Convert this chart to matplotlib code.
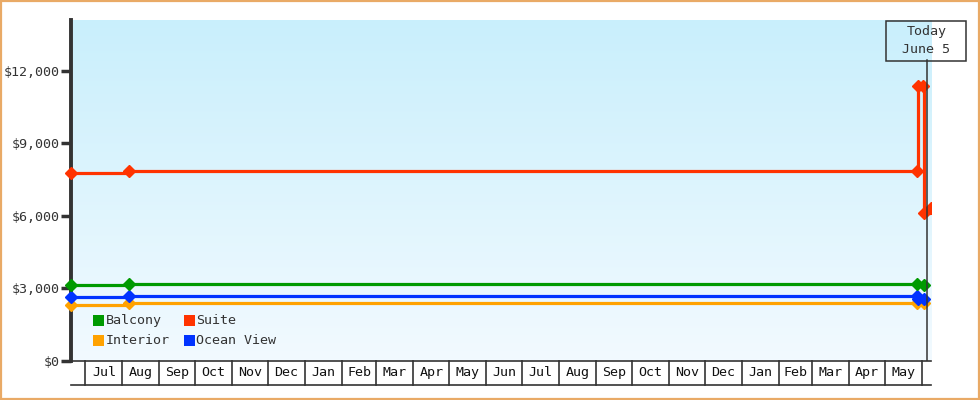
"""
Cabin price history chart (Balcony / Suite / Interior / Ocean View)
"""
# IMPORT TOOLS
import datetime as dt
import numpy as np
import matplotlib
matplotlib.use('Agg')
import matplotlib.pyplot as plt
import matplotlib.dates as mdates
from matplotlib.patches import Rectangle
from matplotlib.colors import LinearSegmentedColormap


# PRICE HISTORY DATA (price holds until the next change)
suite_dates = ['2023-06-19', '2023-08-07', '2025-05-28', '2025-05-28T18:00', '2025-06-02', '2025-06-03', '2025-06-09']
suite_prices = [7770, 7830, 7830, 11360, 11360, 6090, 6300]

balcony_dates = ['2023-06-19', '2023-08-07', '2025-05-28', '2025-06-03']
balcony_prices = [3110, 3160, 3160, 3110]

ocean_dates = ['2023-06-19', '2023-08-07', '2025-05-28', '2025-05-28T18:00', '2025-06-03']
ocean_prices = [2610, 2680, 2680, 2560, 2530]

interior_dates = ['2023-06-19', '2023-08-07', '2025-05-28', '2025-06-03']
interior_prices = [2310, 2390, 2390, 2380]

y_ticks = [0, 3000, 6000, 9000, 12000]
x_start = '2023-06-19'
x_end = '2025-06-08T16:00'
today = '2025-06-05'
today_label = 'Today\nJune 5'

# name, colour, dates, prices  (draw order)
series = [
    ('Interior', '#ffa200', interior_dates, interior_prices),
    ('Ocean View', '#0033ff', ocean_dates, ocean_prices),
    ('Balcony', '#009a00', balcony_dates, balcony_prices),
    ('Suite', '#ff3300', suite_dates, suite_prices),
]
legend_order = ['Balcony', 'Suite', 'Interior', 'Ocean View']

FONT = 'DejaVu Sans Mono'
TXT = '#333333'
W, H = 980, 400


def to_num(d):
    return mdates.date2num(np.datetime64(d))


def fx(px):
    return px / W


def fy(py):
    return 1 - py / H


fig = plt.figure(figsize=(W / 100, H / 100), dpi=100)
ax_left, ax_right, ax_top, ax_bot = 71, 931, 20, 360.5
ax = fig.add_axes([fx(ax_left), fy(ax_bot), (ax_right - ax_left) / W, (ax_bot - ax_top) / H])

# BACKGROUND GRADIENT
cmap = LinearSegmentedColormap.from_list('bg', ['#f2faff', '#c9effc'])
grad = np.linspace(0, 1, 256).reshape(-1, 1)
ax.imshow(grad, cmap=cmap, aspect='auto', extent=[0, 1, 0, 1], origin='lower',
          transform=ax.transAxes, zorder=0)

ax.set_xlim(to_num(x_start), to_num(x_end))
ax.set_ylim(0, 14090)
x_max = to_num(x_end)

# PRICE LINES
for name, color, dates, prices in series:
    xs = np.array([to_num(d) for d in dates])
    ys = np.array(prices)
    ax.plot(xs, ys, color=color, lw=2.3, drawstyle='steps-post', solid_joinstyle='miter', zorder=3)
    inside = xs <= x_max
    # markers inside the range may overlap the left spine
    ax.plot(xs[inside], ys[inside], ls='none', marker='D', ms=6.5, mec=color, mfc=color,
            zorder=3, clip_on=False)
    ax.plot(xs[~inside], ys[~inside], ls='none', marker='D', ms=6.5, mec=color, mfc=color, zorder=3)

ax.set_yticks(y_ticks)
ax.set_yticklabels(['${:,.0f}'.format(v) for v in y_ticks], fontfamily=FONT, fontsize=9.6, color=TXT)
ax.tick_params(axis='y', direction='out', length=7, width=2.5, color=TXT, pad=1)
ax.set_xticks([])

for side in ['top', 'right']:
    ax.spines[side].set_visible(False)
ax.spines['left'].set_linewidth(2.8)
ax.spines['left'].set_color(TXT)
ax.spines['bottom'].set_linewidth(1.2)
ax.spines['bottom'].set_color(TXT)

# MONTH BAND UNDER THE AXIS
band = 24.5 / (ax_bot - ax_top)
trans = ax.get_xaxis_transform()
month = dt.date(2023, 7, 1)
end_month = dt.date(2025, 6, 1)
while month <= end_month:
    nxt = dt.date(month.year + (month.month == 12), month.month % 12 + 1, 1)
    x0 = to_num(month.isoformat())
    ax.plot([x0, x0], [0, -band], color=TXT, lw=1.2, transform=trans, clip_on=False)
    if nxt <= end_month:
        xm = (x0 + to_num(nxt.isoformat())) / 2
        ax.text(xm, -band / 2, month.strftime('%b'), transform=trans, ha='center', va='center',
                fontfamily=FONT, fontsize=9.6, color='#111111')
    month = nxt
ax.plot([0, 1], [-band, -band], color=TXT, lw=1.2, transform=ax.transAxes, clip_on=False)

# TODAY MARKER
xt = to_num(today)
ax.plot([xt, xt], [0, 1 - 40 / (ax_bot - ax_top)], color=TXT, lw=1.1, transform=trans, zorder=4)
fig.add_artist(Rectangle((fx(886), fy(60.5)), 80 / W, 40 / H, transform=fig.transFigure,
                         fill=False, ec=TXT, lw=1.1))
fig.text(fx(926.3), fy(40.5), today_label, ha='center', va='center', fontfamily=FONT,
         fontsize=9.6, color=TXT, linespacing=1.5)

# LEGEND (manual, two columns)
colors = {name: color for name, color, _, _ in series}
for i, name in enumerate(legend_order):
    col, row = i % 2, i // 2
    px = 93 + col * 90.5
    py = 315 + row * 20
    fig.add_artist(Rectangle((fx(px), fy(py + 11)), 11 / W, 11 / H, transform=fig.transFigure,
                             color=colors[name], lw=0))
    fig.text(fx(px + 13), fy(py + 5.5), name, ha='left', va='center', fontfamily=FONT,
             fontsize=9.6, color=TXT)

# OUTER FRAME
fig.add_artist(Rectangle((0.001, 0.002), 0.998, 0.996, transform=fig.transFigure,
                         fill=False, ec='#e9aa66', lw=1.6))

fig.savefig('out.png', dpi=100, facecolor='white')
